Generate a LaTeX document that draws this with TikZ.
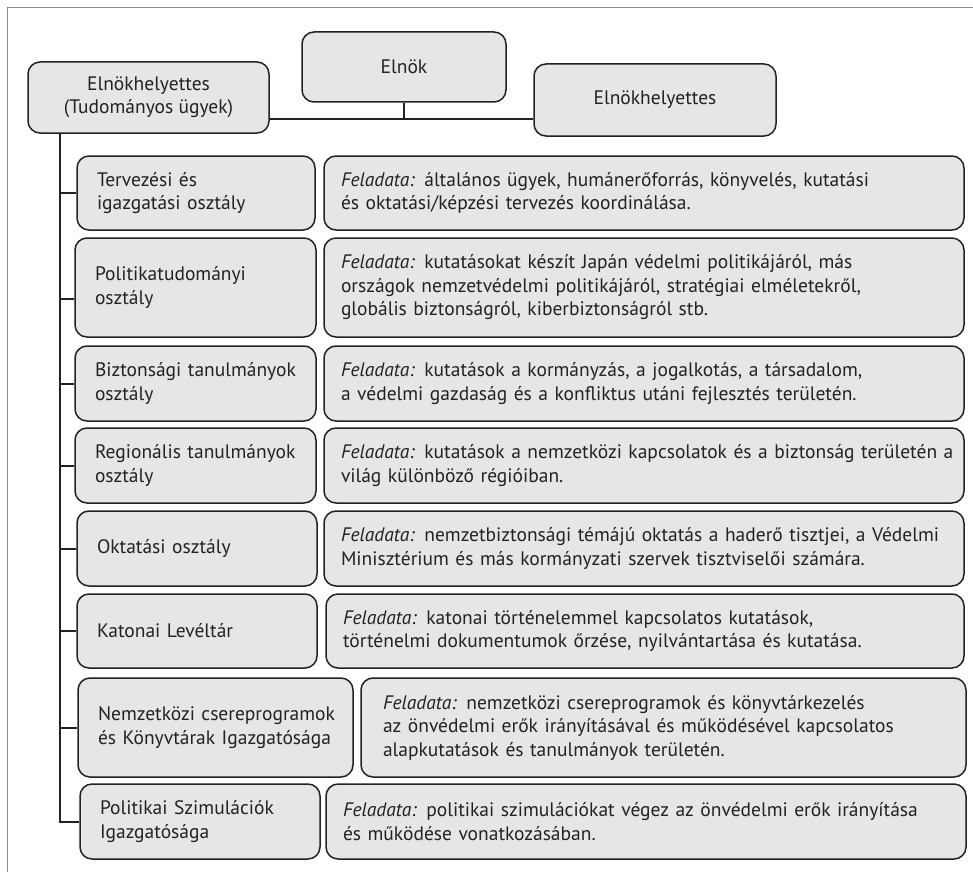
\documentclass[tikz,border=0pt]{standalone}
\usepackage{fontspec}
\setmainfont{PT Sans}
\definecolor{boxgray}{HTML}{E6E6E6}
\definecolor{ink}{HTML}{222222}
\definecolor{framegray}{HTML}{8A8A8A}
\newcommand\tl[1]{\mbox{#1}}
\newcommand\fel{{\itshape Feladata:}}
\hfuzz=200pt
\begin{document}
\begin{tikzpicture}[x=1pt,y=-1pt,
  box/.style={draw=ink, line width=1.5pt, rounded corners=12pt, fill=boxgray,
    text=ink, inner ysep=2pt, font=\fontsize{19.5}{23.5}\selectfont},
  topbox/.style={box, align=center, inner xsep=4pt},
  lbox/.style={box, align=left, inner xsep=20pt},
  rbox/.style={box, align=left, inner xsep=17pt},
  conn/.style={draw=ink, line width=2pt},
  frame/.style={draw=framegray, line width=1pt}]
\useasboundingbox (0,0) rectangle (973,872);
\draw[frame] (7,872) -- (7,8) -- (973,8);

% top level
\node[topbox, minimum width=204pt, minimum height=70pt] (elnok) at (404,67) {Elnök};
\node[topbox, minimum width=241pt, minimum height=71pt] (vpl) at (148.5,97.5) {Elnökhelyettes\\(Tudományos ügyek)};
\node[topbox, minimum width=242pt, minimum height=72pt] (vpr) at (655,100) {Elnökhelyettes};

% rows
\node[lbox, minimum width=238pt, text width=198pt, minimum height=74pt] (l1) at (196,193) {\tl{Tervezési és}\\\tl{igazgatási osztály}};
\node[rbox, minimum width=640pt, text width=606pt, minimum height=74pt] (r1) at (644,193) {\tl{\fel{} általános ügyek, humánerőforrás, könyvelés, kutatási}\\\tl{és oktatási/képzési tervezés koordinálása.}};

\node[lbox, minimum width=241pt, text width=201pt, minimum height=99pt] (l2) at (195.5,287.5) {\tl{Politikatudományi}\\\tl{osztály}};
\node[rbox, minimum width=640pt, text width=606pt, minimum height=99pt] (r2) at (644,287.5) {\tl{\fel{} kutatásokat készít Japán védelmi politikájáról, más}\\\tl{országok nemzetvédelmi politikájáról, stratégiai elméletekről,}\\\tl{globális biztonságról, kiberbiztonságról stb.}};

\node[lbox, minimum width=241pt, text width=201pt, minimum height=75pt] (l3) at (195.5,383.5) {\tl{Biztonsági tanulmányok}\\\tl{osztály}};
\node[rbox, minimum width=640pt, text width=606pt, minimum height=75pt] (r3) at (644,383.5) {\tl{\fel{} kutatások a kormányzás, a jogalkotás, a társadalom,}\\\tl{a védelmi gazdaság és a konfliktus utáni fejlesztés területén.}};

\node[lbox, minimum width=241pt, text width=201pt, minimum height=75pt] (l4) at (195.5,465.5) {\tl{Regionális tanulmányok}\\\tl{osztály}};
\node[rbox, minimum width=640pt, text width=606pt, minimum height=75pt] (r4) at (644,465.5) {\tl{\fel{} kutatások a nemzetközi kapcsolatok és a biztonság területén a}\\\tl{világ különböző régióiban.}};

\node[lbox, minimum width=240pt, text width=200pt, minimum height=75pt] (l5) at (197,548.5) {\tl{Oktatási osztály}};
\node[rbox, minimum width=640pt, text width=606pt, minimum height=75pt] (r5) at (644,548.5) {\tl{\fel{} nemzetbiztonsági témájú oktatás a haderő tisztjei, a Védelmi}\\\tl{Minisztérium és más kormányzati szervek tisztviselői számára.}};

\node[lbox, minimum width=240pt, text width=200pt, minimum height=74pt] (l6) at (197,631) {\tl{Katonai Levéltár}};
\node[rbox, minimum width=638pt, text width=604pt, minimum height=74pt] (r6) at (645,631) {\tl{\fel{} katonai történelemmel kapcsolatos kutatások,}\\\tl{történelmi dokumentumok őrzése, nyilvántartása és kutatása.}};

\node[lbox, minimum width=275pt, text width=235pt, minimum height=99pt] (l7) at (215.5,727.5) {\tl{Nemzetközi csereprogramok}\\\tl{és Könyvtárak Igazgatósága}};
\node[rbox, inner xsep=22pt, minimum width=605pt, text width=561pt, minimum height=99pt] (r7) at (663.5,727.5) {\tl{\fel{} nemzetközi csereprogramok és könyvtárkezelés}\\\tl{az önvédelmi erők irányításával és működésével kapcsolatos}\\\tl{alapkutatások és tanulmányok területén.}};

\node[lbox, minimum width=240pt, text width=200pt, minimum height=75pt] (l8) at (200,821.5) {\tl{Politikai Szimulációk}\\\tl{Igazgatósága}};
\node[rbox, minimum width=640pt, text width=606pt, minimum height=75pt] (r8) at (646,821.5) {\tl{\fel{} politikai szimulációkat végez az önvédelmi erők irányítása}\\\tl{és működése vonatkozásában.}};

% connectors
\coordinate (hj) at (404,119);
\coordinate (tx) at (60,0);
\draw[conn] (elnok.south) -- (hj);
\draw[conn] (vpl.east |- hj) -- (vpr.west |- hj);
\draw[conn] (tx |- vpl.south) -- (tx |- l8.west) -- (l8.west);
\draw[conn] (tx |- l1.west) -- (l1.west);
\draw[conn] ([yshift=-11pt]l2.west -| tx) -- ([yshift=-11pt]l2.west);
\draw[conn] (tx |- l3.west) -- (l3.west);
\draw[conn] (tx |- l4.west) -- (l4.west);
\draw[conn] (tx |- l5.west) -- (l5.west);
\draw[conn] (tx |- l6.west) -- (l6.west);
\draw[conn] (tx |- l7.west) -- (l7.west);
\end{tikzpicture}
\end{document}
